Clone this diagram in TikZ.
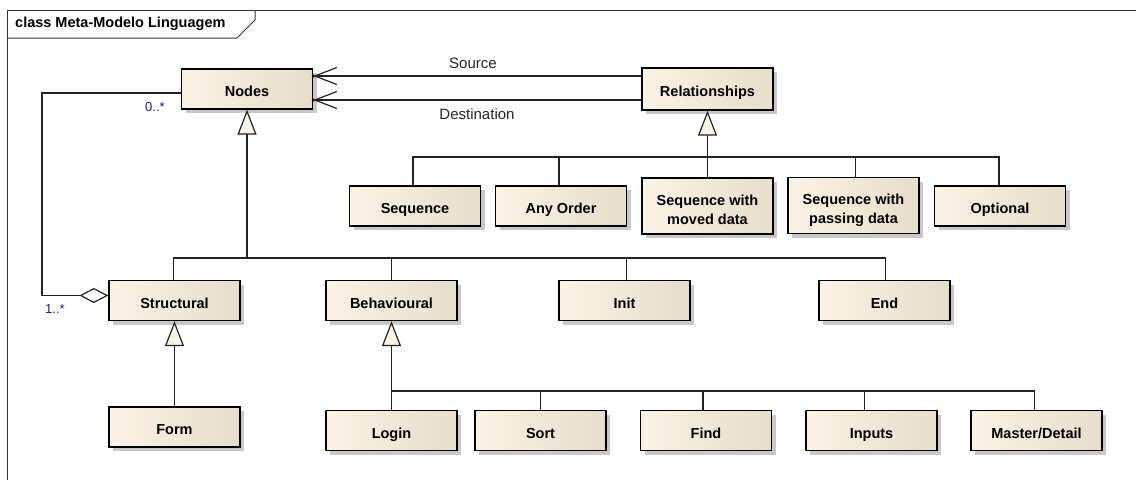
\documentclass[tikz,border=0pt]{standalone}
\usepackage{fontspec}
\setmainfont{Liberation Sans}
\usetikzlibrary{arrows.meta,shadows}
\definecolor{boxL}{RGB}{251,243,229}
\definecolor{boxR}{RGB}{232,221,203}
\definecolor{shade}{RGB}{200,200,200}
\definecolor{mult}{RGB}{25,35,115}
\definecolor{wire}{RGB}{35,35,35}
\begin{document}
\begin{tikzpicture}[x=1pt,y=-1pt,
  cls/.style={draw=black,line width=1.3pt,left color=boxL,right color=boxR,
    minimum width=131pt,minimum height=40pt,inner sep=0pt,
    font=\fontsize{14.5}{19}\selectfont\bfseries,
    text height=15pt,text depth=0pt,
    drop shadow={shadow xshift=4pt,shadow yshift=-4pt,fill=shade,opacity=1}},
  tall/.style={minimum height=56pt,text height=15pt,text depth=17pt},
  wire/.style={draw=wire,line width=1.2pt},
  gen/.style={wire,-{Triangle[length=25pt,width=19pt,fill=boxL]}},
  assoc/.style={wire,-{Straight Barb[length=22pt,width=17pt]}},
  aggr/.style={wire,{Diamond[length=29pt,width=15pt,fill=white]}-},
  lbl/.style={font=\fontsize{15}{18}\selectfont,text=black!85,inner sep=0pt},
  multl/.style={font=\fontsize{13}{15}\selectfont,text=mult,inner sep=0pt},
  frame/.style={draw=black!80,line width=1pt}]
\useasboundingbox (0,0) rectangle (1136,480);
\fill[white] (0,0) rectangle (1136,480);

% diagram frame and its name tab
\draw[frame] (7,480) -- (7,10) -- (1136,10);
\draw[frame] (7,38) -- (237,38) -- (255,20) -- (255,10);
\node[anchor=west,font=\fontsize{14.5}{17}\selectfont\bfseries,inner sep=0pt] (title) at (15,24) {class Meta-Modelo Linguagem};

% classes
\node[cls] (nodes) at (247,89) {Nodes};
\node[cls,minimum height=42pt] (rel) at (707.5,89) {Relationships};
\node[cls] (seq) at (415,206) {Sequence};
\node[cls] (anyo) at (561,206) {Any Order};
\node[cls,tall] (moved) at (707.5,206) {\begin{tabular}[t]{@{}c@{}}Sequence with\\moved data\end{tabular}};
\node[cls,tall] (passing) at (853.5,205.5) {\begin{tabular}[t]{@{}c@{}}Sequence with\\passing data\end{tabular}};
\node[cls] (opt) at (1000,206) {Optional};
\node[cls] (struct) at (174.5,300.5) {Structural};
\node[cls] (behav) at (391.5,300.5) {Behavioural};
\node[cls] (init) at (624.5,300.5) {Init};
\node[cls] (endn) at (884.5,300.5) {End};
\node[cls] (form) at (174.5,427) {Form};
\node[cls] (login) at (391.5,430.5) {Login};
\node[cls] (sort) at (540.5,430.5) {Sort};
\node[cls] (find) at (706,430.5) {Find};
\node[cls] (inputs) at (871.5,430.5) {Inputs};
\node[cls] (md) at (1036.5,430.5) {Master/Detail};

% associations Relationships -> Nodes
\draw[assoc] ([yshift=13pt]rel.west) -- ([yshift=13pt]nodes.east);
\draw[assoc] ([yshift=-11pt]rel.west) -- ([yshift=-11pt]nodes.east);
\fill[black] ([yshift=13pt]nodes.east) circle (1.6pt);
\fill[black] ([yshift=-11pt]nodes.east) circle (1.6pt);
\node[lbl] (srcl) at (473,63) {Source};
\node[lbl] (dstl) at (477,114) {Destination};

% generalisation trees
\coordinate (rbus) at (707.5,157);
\draw[gen] (rbus) -- (rel.south);
\draw[wire] (moved.north) -- (rbus);
\draw[wire] ([xshift=-2pt]seq.north) |- (rbus);
\draw[wire] ([xshift=-2pt]anyo.north) |- (rbus);
\draw[wire] ([xshift=2pt]passing.north) |- (rbus);
\draw[wire] ([xshift=-1pt]opt.north) |- (rbus);

\coordinate (nbus) at (247,258);
\draw[gen] (nbus) -- (nodes.south);
\draw[wire] ([xshift=-1pt]struct.north) |- (nbus);
\draw[wire] (behav.north) |- (nbus);
\draw[wire] ([xshift=2pt]init.north) |- (nbus);
\draw[wire] ([xshift=1pt]endn.north) |- (nbus);

\draw[gen] (form.north) -- (struct.south);

\coordinate (bbus) at (391.5,391);
\draw[gen] (bbus) -- (behav.south);
\draw[wire] (login.north) -- (bbus);
\draw[wire] (sort.north) |- (bbus);
\draw[wire] ([xshift=-3pt]find.north) |- (bbus);
\draw[wire] ([xshift=-7pt]inputs.north) |- (bbus);
\draw[wire] ([xshift=-2pt]md.north) |- (bbus);

% aggregation Structural <>-- Nodes
\coordinate (acorner) at (42,93);
\draw[aggr] ([yshift=5pt]struct.west) -| (acorner) -- ([yshift=-4pt]nodes.west);
\node[multl] (m0) at (155,107.5) {0..*};
\node[multl] (m1) at (55,309) {1..*};
\end{tikzpicture}
\end{document}
